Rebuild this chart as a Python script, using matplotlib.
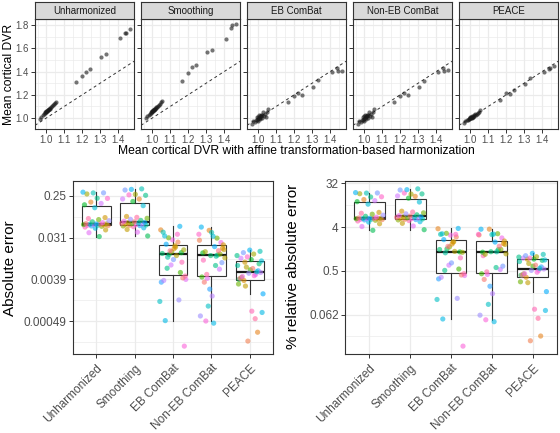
import numpy as np
import matplotlib
matplotlib.use("Agg")
import matplotlib.pyplot as plt
from matplotlib import cbook
from matplotlib.ticker import FixedLocator, NullFormatter

plt.rcParams["font.family"] = ["Liberation Sans", "DejaVu Sans"]

methods = ["Unharmonized", "Smoothing", "EB ComBat", "Non-EB ComBat", "PEACE"]

# mean cortical DVR with affine transformation-based harmonization (one per subject)
affine_dvr = [0.961, 0.972, 0.980, 0.985, 0.990, 0.993, 0.996, 0.998, 1.000, 1.002,
              1.004, 1.006, 1.008, 1.010, 1.012, 1.015, 1.018, 1.021, 1.025, 1.030,
              1.036, 1.042, 1.049, 1.055, 1.167, 1.200, 1.220, 1.240, 1.306, 1.330,
              1.409, 1.439, 1.444, 1.463]

# subject id (sets the point colour), same subject order
subject_id = [12, 27, 5, 19, 31, 8, 22, 1, 15, 29, 3, 25, 10, 33, 17, 6, 21,
              0, 28, 13, 24, 9, 32, 4, 18, 11, 26, 2, 30, 14, 7, 23, 16, 20]

# method DVR minus affine DVR, same subject order
diff_unharmonized = [0.033, 0.040, 0.046, 0.050, 0.053, 0.055, 0.056, 0.057, 0.058, 0.058,
                     0.059, 0.060, 0.060, 0.061, 0.061, 0.062, 0.062, 0.063, 0.066, 0.069,
                     0.073, 0.077, 0.081, 0.085, 0.139, 0.161, 0.172, 0.184, 0.221, 0.223,
                     0.276, 0.292, 0.291, 0.302]
diff_smoothing = [0.034, 0.041, 0.047, 0.051, 0.054, 0.056, 0.057, 0.058, 0.059, 0.060,
                  0.061, 0.062, 0.063, 0.064, 0.065, 0.066, 0.067, 0.069, 0.071, 0.074,
                  0.078, 0.082, 0.086, 0.090, 0.154, 0.190, 0.215, 0.214, 0.264, 0.258,
                  0.271, 0.336, 0.356, 0.347]
diff_eb_combat = [-0.0136, 0.0039, -0.0195, 0.0005, -0.0092, 0.0155, -0.0034, -0.0250, 0.0118, -0.00014,
                  0.0180, -0.0037, 0.0055, -0.0162, 0.0013, 0.0128, -0.0225, 0.0042, 0.0280, -0.0142,
                  0.0014, -0.0310, 0.0046, 0.0208, -0.0340, -0.0148, -0.0080, -0.0460, -0.0370, -0.0068,
                  -0.0170, -0.0105, -0.0410, -0.0550]
diff_noneb_combat = [-0.0132, 0.0041, -0.0172, 0.00044, -0.0102, 0.0138, -0.0024, -0.0275, 0.0124, -0.00049,
                     0.0184, -0.0017, 0.0044, -0.0163, 0.00103, 0.0114, -0.0200, 0.0034, 0.0245, -0.0128,
                     0.00063, -0.0305, 0.0050, 0.0218, -0.0335, -0.0146, -0.0065, -0.0450, -0.0370, -0.0078,
                     -0.0155, -0.0090, -0.0405, -0.0530]
diff_peace = [-0.0039, 0.0050, 0.0028, -0.00075, 0.00080, -0.0043, 0.0060, -0.00018, 0.0078, -0.0047,
              0.0037, 0.0055, -0.0063, 0.0041, -0.0057, -0.0072, -0.0019, 0.0067, 0.0045, -0.0085,
              -0.0053, -0.0031, 0.00055, 0.0092, -0.0098, 0.0105, -0.0112, -0.00028, -0.0120, 0.0128,
              -0.0138, -0.0148, -0.0158, -0.0168]

abs_ticks = [2.0 ** -2, 2.0 ** -5, 2.0 ** -8, 2.0 ** -11]
abs_labels = ["0.25", "0.031", "0.0039", "0.00049"]
rel_ticks = [2.0 ** 5, 2.0 ** 2, 2.0 ** -1, 2.0 ** -4]
rel_labels = ["32", "4", "0.5", "0.062"]
dvr_xticks = [1.0, 1.1, 1.2, 1.3, 1.4]
dvr_yticks = [1.0, 1.2, 1.4, 1.6, 1.8]

x = np.array(affine_dvr)
diffs = [np.array(d) for d in (diff_unharmonized, diff_smoothing, diff_eb_combat,
                               diff_noneb_combat, diff_peace)]
abs_err = [np.abs(d) for d in diffs]
rel_err = [100 * np.abs(d) / x for d in diffs]
n = len(x)


def hue_colors(k):
    # ggplot2 hue_pal(): hcl(h, c=100, l=65)
    hues = np.linspace(15, 375, k + 1)[:k]
    L, C = 65.0, 100.0
    Xn, Yn, Zn = 95.047, 100.0, 108.883
    un = 4 * Xn / (Xn + 15 * Yn + 3 * Zn)
    vn = 9 * Yn / (Xn + 15 * Yn + 3 * Zn)
    Y = Yn * ((L + 16) / 116) ** 3
    out = []
    for h in hues:
        u = C * np.cos(np.radians(h))
        v = C * np.sin(np.radians(h))
        up = u / (13 * L) + un
        vp = v / (13 * L) + vn
        X = Y * 9 * up / (4 * vp)
        Z = Y * (12 - 3 * up - 20 * vp) / (4 * vp)
        xyz = np.array([X, Y, Z]) / 100
        m = np.array([[3.2406, -1.5372, -0.4986],
                      [-0.9689, 1.8758, 0.0415],
                      [0.0557, -0.2040, 1.0570]])
        rgb = m @ xyz
        rgb = np.where(rgb <= 0.0031308, 12.92 * rgb, 1.055 * np.clip(rgb, 0, None) ** (1 / 2.4) - 0.055)
        out.append(np.clip(rgb, 0, 1))
    return out


palette = hue_colors(n)
colors = [palette[i] for i in subject_id]

W, H = 560, 433
fig = plt.figure(figsize=(W / 100, H / 100), dpi=100)

BORDER = "#333333"
GRID = "#EBEBEB"
TICKCOL = "#4D4D4D"


def px(left, top, right, bottom):
    return [left / W, 1 - bottom / H, (right - left) / W, (bottom - top) / H]


def style(ax, size):
    for s in ax.spines.values():
        s.set_color(BORDER)
        s.set_linewidth(0.8)
    ax.tick_params(which="major", color=BORDER, length=3, width=0.7,
                   labelcolor=TICKCOL, labelsize=size, pad=1.5)
    ax.tick_params(which="minor", length=0)
    ax.grid(which="major", color=GRID, lw=0.9)
    ax.grid(which="minor", color=GRID, lw=0.5)
    ax.set_axisbelow(True)


# ---- top row: facets
ymin = min((x + d).min() for d in diffs)
ymax = max((x + d).max() for d in diffs)
ypad = 0.05 * (ymax - ymin)
xpad = 0.05 * (x.max() - x.min())
for k, name in enumerate(methods):
    left = 35 + k * 106
    ax = fig.add_axes(px(left, 19, left + 99, 129))
    ax.scatter(x, x + diffs[k], s=9, c="#1A1A1A", alpha=0.6, lw=0, zorder=3)
    ax.axline((1, 1), slope=1, color="#333333", lw=0.7, ls=(0, (3, 3)), zorder=2)
    ax.set_xlim(x.min() - xpad, x.max() + xpad)
    ax.set_ylim(ymin - ypad, ymax + ypad)
    ax.set_xticks(dvr_xticks)
    ax.set_xticklabels([f"{t:.1f}" for t in dvr_xticks])
    ax.xaxis.set_minor_locator(FixedLocator([0.95, 1.05, 1.15, 1.25, 1.35, 1.45]))
    ax.set_yticks(dvr_yticks)
    ax.yaxis.set_minor_locator(FixedLocator([0.9, 1.1, 1.3, 1.5, 1.7]))
    if k == 0:
        ax.set_yticklabels([f"{t:.1f}" for t in dvr_yticks])
    else:
        ax.tick_params(axis="y", length=0)
        ax.set_yticklabels([])
    style(ax, 6.9)

    strip = fig.add_axes(px(left, 2, left + 99, 19))
    strip.set_facecolor("#D9D9D9")
    strip.set_xticks([])
    strip.set_yticks([])
    for s in strip.spines.values():
        s.set_color(BORDER)
        s.set_linewidth(0.8)
    strip.text(0.5, 0.45, name, ha="center", va="center", fontsize=7, color="#1A1A1A",
               transform=strip.transAxes)

fig.text(296 / W, 1 - 151 / H, "Mean cortical DVR with affine transformation-based harmonization",
         ha="center", va="center", fontsize=8.7)
fig.text(9 / W, 1 - 74 / H, "Mean cortical DVR", ha="center", va="center",
         rotation=90, fontsize=8.7)


# ---- bottom row: box plots on log2 scale
def boxpanel(ax, data, ticks, labels, size):
    pos = np.arange(1, len(methods) + 1)
    for k, vals in enumerate(data):
        st = cbook.boxplot_stats(np.log2(vals), whis=1.5)[0]
        for key in ("med", "q1", "q3", "whislo", "whishi", "mean", "cilo", "cihi"):
            st[key] = 2.0 ** st[key]
        st["fliers"] = []
        ax.bxp([st], positions=[pos[k]], widths=0.75, showfliers=False, showcaps=False,
               patch_artist=True,
               boxprops=dict(facecolor="white", edgecolor=BORDER, lw=0.8),
               whiskerprops=dict(color=BORDER, lw=0.8),
               medianprops=dict(color="#1A1A1A", lw=1.6),
               zorder=2)
        jit = (((np.arange(n) + 1) * 0.618034 + k * 0.37) % 1 - 0.5) * 0.7
        ax.scatter(pos[k] + jit, vals, s=14, c=colors, alpha=0.6, lw=0, zorder=3)
    ax.set_yscale("log", base=2)
    lo = min(np.log2(v).min() for v in data)
    hi = max(np.log2(v).max() for v in data)
    pad = 0.05 * (hi - lo)
    ax.set_ylim(2 ** (lo - pad), 2 ** (hi + pad))
    ax.set_xlim(0.4, len(methods) + 0.6)
    ax.yaxis.set_major_locator(FixedLocator(ticks))
    ax.yaxis.set_minor_locator(FixedLocator([t * 2 ** -1.5 for t in ticks]))
    ax.yaxis.set_minor_formatter(NullFormatter())
    ax.set_yticklabels(labels)
    ax.set_xticks(pos)
    ax.set_xticklabels(methods, rotation=45, ha="right", va="top", rotation_mode="anchor")
    style(ax, size)
    ax.tick_params(axis="x", labelsize=8.5, pad=3)


ax1 = fig.add_axes(px(73, 181, 273, 354))
boxpanel(ax1, abs_err, abs_ticks, abs_labels, 8.5)
fig.text(10 / W, 1 - 268 / H, "Absolute error", ha="center", va="center",
         rotation=90, fontsize=11)

ax2 = fig.add_axes(px(345, 181, 557, 354))
boxpanel(ax2, rel_err, rel_ticks, rel_labels, 8.5)
fig.text(293 / W, 1 - 266 / H, "% relative absolute error", ha="center", va="center",
         rotation=90, fontsize=11)

fig.savefig("out.png", dpi=100)
